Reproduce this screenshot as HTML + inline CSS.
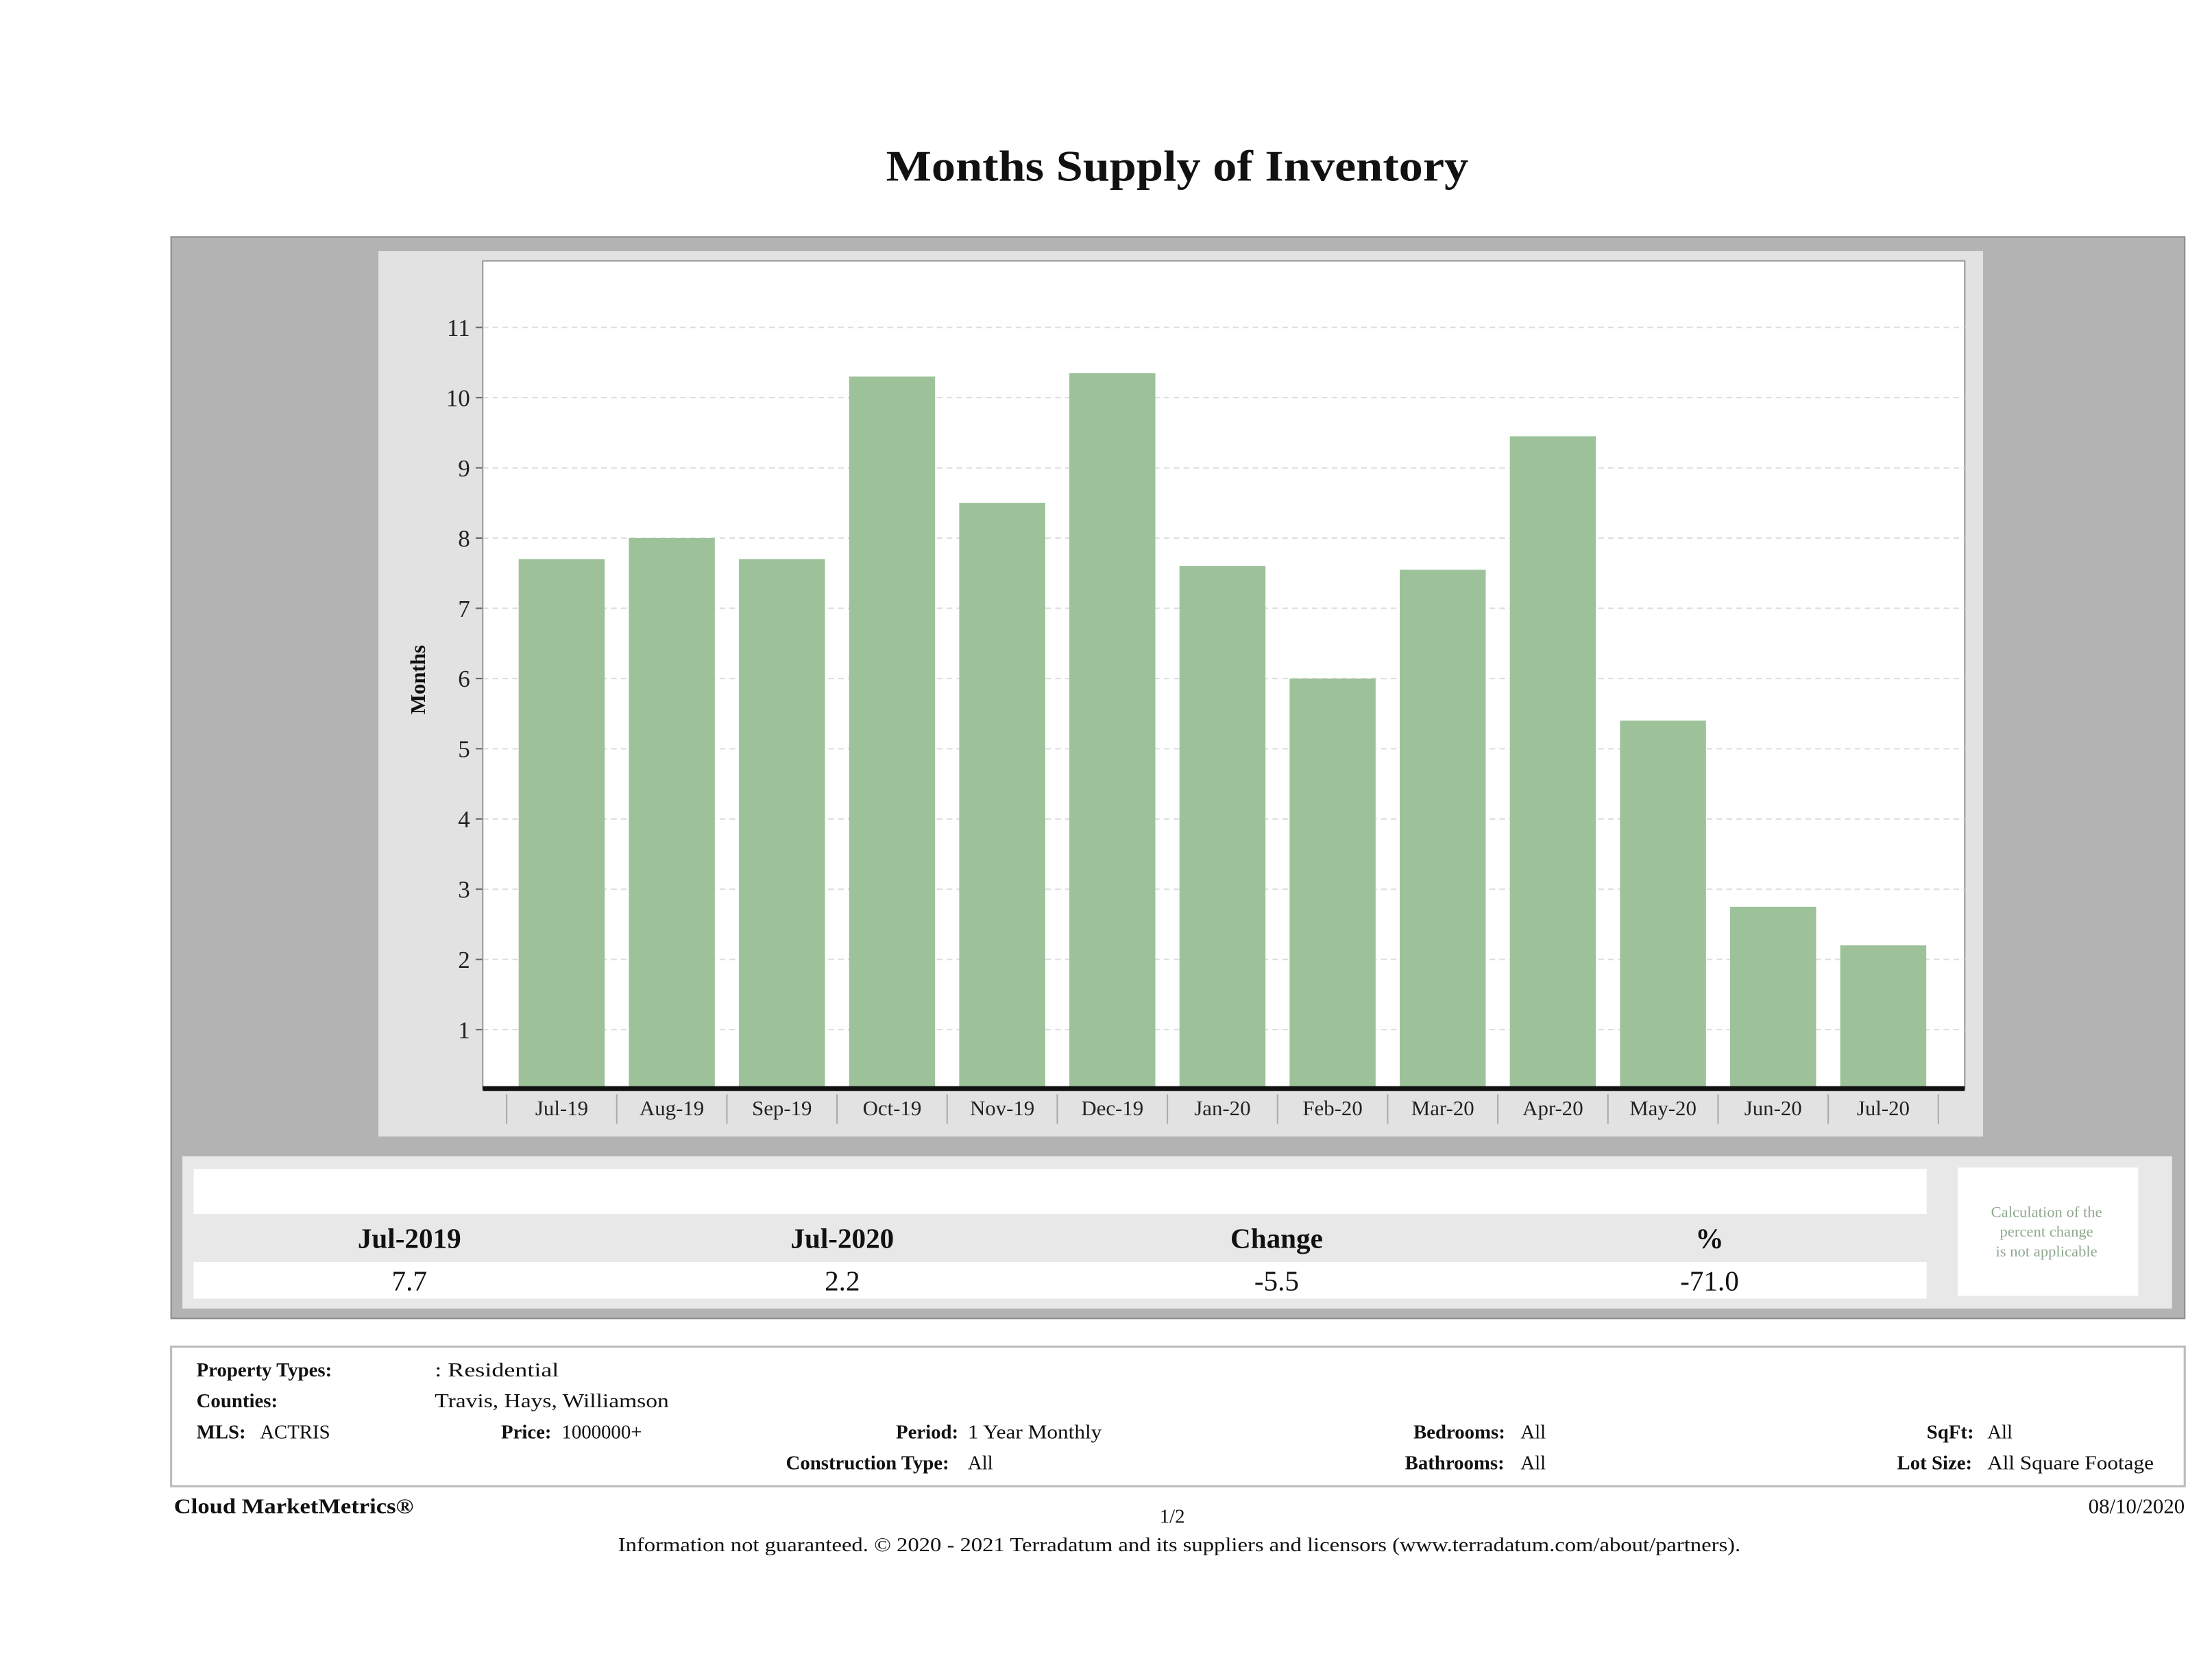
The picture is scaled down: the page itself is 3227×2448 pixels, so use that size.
<!DOCTYPE html>
<html><head><meta charset="utf-8"><style>
html,body{margin:0;padding:0;background:#fff;}
svg{display:block;font-family:"Liberation Serif",serif;}
</style></head><body>
<svg id="page" width="3227" height="2448" viewBox="0 0 1568 1190" xmlns="http://www.w3.org/2000/svg">
<rect width="1568" height="1190" fill="#fff"/>
<text x="628" y="128" textLength="413" lengthAdjust="spacingAndGlyphs" font-size="31" font-weight="bold" fill="#111">Months Supply of Inventory</text>
<rect x="121" y="168" width="1428" height="767" fill="#b3b3b3" stroke="#8a8a8a"/>
<rect x="268" y="178" width="1138" height="628" fill="#e2e2e2"/>
<rect x="342" y="185" width="1051" height="587" fill="#fff" stroke="#999"/>
<g id="grid"></g>
<g id="bars"></g>
<g id="axes"></g>
<text transform="translate(301,482) rotate(-90)" text-anchor="middle" font-size="15" font-weight="bold" fill="#111">Months</text>

<rect x="129" y="820" width="1411" height="108" fill="#e8e8e8"/>
<rect x="137" y="829" width="1229" height="32" fill="#fff"/>
<rect x="137" y="895" width="1229" height="26" fill="#fff"/>
<g font-size="20" font-weight="bold" text-anchor="middle" fill="#111">
<text x="290" y="885">Jul-2019</text>
<text x="597" y="885">Jul-2020</text>
<text x="905" y="885">Change</text>
<text x="1212" y="885">%</text>
</g>
<g font-size="20" text-anchor="middle" fill="#111">
<text x="290" y="915">7.7</text>
<text x="597" y="915">2.2</text>
<text x="905" y="915">-5.5</text>
<text x="1212" y="915">-71.0</text>
</g>
<rect x="1388" y="828" width="128" height="91" fill="#fff"/>
<g font-size="11" text-anchor="middle" fill="#8fa88f">
<text x="1451" y="863">Calculation of the</text>
<text x="1451" y="877">percent change</text>
<text x="1451" y="891">is not applicable</text>
</g>

<rect x="121" y="955" width="1428" height="99" fill="#fff" stroke="#bbb" stroke-width="1.5"/>
<g font-size="14" fill="#111">
<text x="139" y="976" font-weight="bold">Property Types:</text><text x="308" y="976" textLength="88" lengthAdjust="spacingAndGlyphs">: Residential</text>
<text x="139" y="998" font-weight="bold">Counties:</text><text x="308" y="998" textLength="166" lengthAdjust="spacingAndGlyphs">Travis, Hays, Williamson</text>
<text x="139" y="1020" font-weight="bold">MLS:</text><text x="184" y="1020">ACTRIS</text>
<text x="355" y="1020" font-weight="bold">Price:</text><text x="398" y="1020">1000000+</text>
<text x="635" y="1020" font-weight="bold">Period:</text><text x="686" y="1020" textLength="95" lengthAdjust="spacingAndGlyphs">1 Year Monthly</text>
<text x="1002" y="1020" font-weight="bold">Bedrooms:</text><text x="1078" y="1020">All</text>
<text x="1366" y="1020" font-weight="bold">SqFt:</text><text x="1409" y="1020">All</text>
<text x="557" y="1042" font-weight="bold">Construction Type:</text><text x="686" y="1042">All</text>
<text x="996" y="1042" font-weight="bold">Bathrooms:</text><text x="1078" y="1042">All</text>
<text x="1345" y="1042" font-weight="bold">Lot Size:</text><text x="1409" y="1042" textLength="118" lengthAdjust="spacingAndGlyphs">All Square Footage</text>
</g>
<text x="123" y="1073" font-size="15" font-weight="bold" fill="#111" textLength="170" lengthAdjust="spacingAndGlyphs">Cloud MarketMetrics®</text>
<text x="831" y="1080" font-size="14" text-anchor="middle" fill="#111">1/2</text>
<text x="1549" y="1073" font-size="15" text-anchor="end" fill="#111">08/10/2020</text>
<text x="438" y="1100" font-size="14" fill="#111" textLength="796" lengthAdjust="spacingAndGlyphs">Information not guaranteed. © 2020 - 2021 Terradatum and its suppliers and licensors (www.terradatum.com/about/partners).</text>
</svg>
<script>
const categories = ["Jul-19","Aug-19","Sep-19","Oct-19","Nov-19","Dec-19","Jan-20","Feb-20","Mar-20","Apr-20","May-20","Jun-20","Jul-20"];
const values = [7.7, 8.0, 7.7, 10.3, 8.5, 10.35, 7.6, 6.0, 7.55, 9.45, 5.4, 2.75, 2.2];
const yTicks = [1,2,3,4,5,6,7,8,9,10,11];

const NS = "http://www.w3.org/2000/svg";
const plotL = 342, plotR = 1393, base = 772;
const y = v => 780 - 49.8 * v;
const step = 78.1, first = 398;
const x = i => first + i * step;
const barW = 61;
function mk(tag, attrs, parent) {
  const e = document.createElementNS(NS, tag);
  for (const k in attrs) e.setAttribute(k, attrs[k]);
  parent.appendChild(e);
  return e;
}
const grid = document.getElementById('grid'), bars = document.getElementById('bars'), axes = document.getElementById('axes');
yTicks.forEach(t => {
  const l = mk('line', {x1: plotL, x2: plotR, y1: y(t), y2: y(t), stroke: '#ddd', 'stroke-dasharray': '4,3'}, grid);
  
  
  const tk = mk('line', {x1: plotL - 5, x2: plotL, y1: y(t), y2: y(t), stroke: '#666'}, axes);
  
  
  const tx = mk('text', {x: plotL - 9, y: y(t) + 6, 'text-anchor': 'end', 'font-size': 17, fill: '#222'}, axes);
  tx.textContent = t;
  
  
});
values.forEach((v, i) => {
  const r = mk('rect', {x: x(i) - barW / 2, y: y(v), width: barW, height: base - y(v), fill: '#9dc29a'}, bars);
  
  
});
const bl = mk('line', {x1: plotL, x2: plotR, y1: base, y2: base, stroke: '#111', 'stroke-width': 3.5}, axes);


for (let i = 0; i <= categories.length; i++) {
  const sx = x(i) - step / 2;
  const s = mk('line', {x1: sx, x2: sx, y1: 776, y2: 797, stroke: '#aaa'}, axes);
  
  
}
categories.forEach((c, i) => {
  const t = mk('text', {x: x(i), y: 791, 'text-anchor': 'middle', 'font-size': 15, fill: '#222'}, axes);
  t.textContent = c;
  
  
});
</script>
</body></html>
